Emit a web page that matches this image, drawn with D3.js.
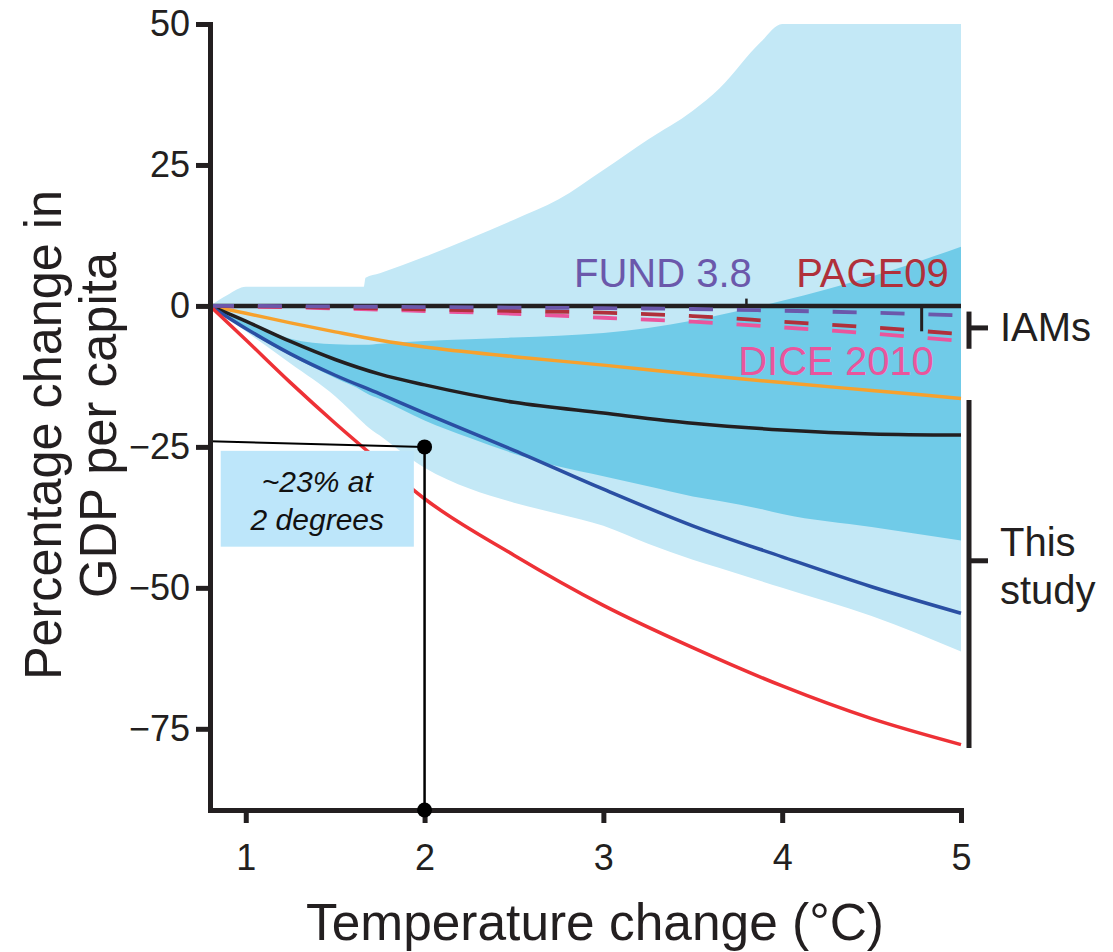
<!DOCTYPE html>
<html>
<head>
<meta charset="utf-8">
<script src="https://cdn.jsdelivr.net/npm/d3@7"></script>
<style>
body { margin: 0; background: #fff; }
text { font-family: "Liberation Sans", Arial, Helvetica, sans-serif; fill: #231f20; }
</style>
</head>
<body>
<div id="chart"></div>
<script>

// temperature grid for the response lines
var temps = [0.8, 1.0, 1.25, 1.5, 1.75, 2.0, 2.5, 3.0, 3.5, 4.0, 4.5, 5.0];

// this study: response curves (% change in GDP per capita)
var lineOrange = [0, -1.3, -3.0, -4.6, -6.1, -7.3, -9.0, -10.5, -12.1, -13.6, -15.0, -16.4];
var lineBlack  = [0, -2.7, -6.3, -9.5, -12.1, -14.0, -17.1, -19.0, -20.8, -22.0, -22.7, -22.9];
var lineBlue   = [0, -4.0, -8.5, -12.3, -15.6, -19.0, -25.6, -32.5, -39.0, -44.5, -49.8, -54.5];
var lineRed    = [0, -6.0, -13.6, -20.8, -27.6, -34.2, -44.2, -53.1, -60.6, -67.4, -73.2, -77.8];

// IAM damage functions
var fund = [0, 0, -0.05, -0.1, -0.15, -0.2, -0.3, -0.4, -0.55, -0.85, -1.2, -1.7];
var page = [0, -0.05, -0.15, -0.3, -0.45, -0.6, -0.9, -1.2, -1.8, -2.8, -3.8, -5.0];
var dice = [0, -0.1, -0.25, -0.45, -0.65, -0.9, -1.4, -2.1, -2.8, -3.8, -4.9, -6.2];

// uncertainty bands
var bandT   = [0.8, 0.9, 1.0, 1.25, 1.5, 1.66, 1.67, 1.75, 2.0, 2.25, 2.5, 2.75, 3.0, 3.25, 3.5, 3.65, 3.88, 4.0, 4.5, 5.0];
var outerHi = [0, 2.0, 3.4, 3.4, 3.4, 3.4, 5.0, 5.8, 8.7, 11.9, 15.3, 18.9, 24.1, 29.5, 34.6, 38.6, 46.8, 50, 50, 50];
var outerLo = [0, -2.2, -4.5, -10.2, -16.0, -20.8, -21.1, -23.0, -28.7, -32.4, -34.9, -36.9, -39.0, -42.2, -45.0, -46.5, -48.8, -50.0, -55.0, -61.3];
var innerHi = [0, -1.2, -2.7, -5.8, -6.8, -6.9, -6.9, -6.7, -6.2, -5.9, -5.6, -5.3, -4.8, -3.9, -2.6, -1.6, 0, 0.9, 5.2, 10.5];
var innerLo = [0, -1.9, -4.2, -8.8, -12.8, -15.2, -15.4, -16.5, -20.3, -23.4, -26.2, -28.5, -30.2, -32.0, -33.8, -34.6, -36.0, -36.9, -39.2, -41.6];

// ticks
var xTicks = [1, 2, 3, 4, 5];
var yTicks = [50, 25, 0, -25, -50, -75];

// annotation: ~23% at 2 degrees
var annotLine = [[0.8, -24], [2, -25]];
var annotBox = {t: [0.86, 1.94], v: [-25.7, -42.7]};

// brackets on the right (top, tick, bottom)
var iamBracket = [-1.0, -3.9, -7.6];
var studyBracket = [-16.7, -45.2, -78.4];

var width = 1113, height = 952;

var svg = d3.select("#chart")
    .append("svg")
    .attr("width", width)
    .attr("height", height);

var x = d3.scaleLinear().domain([0.8, 5]).range([210, 961]);
var y = d3.scaleLinear().domain([-89.4, 50]).range([810, 24]);

var ink = "#231f20";

// bands
var band = d3.area()
    .curve(d3.curveMonotoneX)
    .x(function (d) { return x(d.t); })
    .y0(function (d) { return y(d.lo); })
    .y1(function (d) { return y(d.hi); });

var outer = bandT.map(function (t, i) { return {t: t, lo: outerLo[i], hi: outerHi[i]}; });
var inner = bandT.map(function (t, i) { return {t: t, lo: innerLo[i], hi: innerHi[i]}; });

svg.append("path").attr("d", band(outer)).attr("fill", "#c3e8f6");
svg.append("path").attr("d", band(inner)).attr("fill", "#70cbe8");

// zero line
svg.append("line")
    .attr("x1", x(0.8)).attr("x2", x(5))
    .attr("y1", y(0)).attr("y2", y(0))
    .attr("stroke", ink)
    .attr("stroke-width", 4.5);

// response lines
var line = d3.line()
    .curve(d3.curveMonotoneX)
    .x(function (d, i) { return x(temps[i]); })
    .y(function (d) { return y(d); });

var series = [
    {vals: lineOrange, color: "#f6a12d"},
    {vals: lineBlack, color: "#231f20"},
    {vals: lineBlue, color: "#2a4fa3"},
    {vals: lineRed, color: "#ee3136"}
];

svg.selectAll(".resp")
    .data(series)
    .enter()
    .append("path")
    .attr("class", "resp")
    .attr("d", function (d) { return line(d.vals); })
    .attr("fill", "none")
    .attr("stroke", function (d) { return d.color; })
    .attr("stroke-width", 3.5);

// IAM dashed lines
var iams = [
    {vals: dice, color: "#ea559c"},
    {vals: page, color: "#b0303b"},
    {vals: fund, color: "#6b58ab"}
];

svg.selectAll(".iam")
    .data(iams)
    .enter()
    .append("path")
    .attr("class", "iam")
    .attr("d", function (d) { return line(d.vals); })
    .attr("fill", "none")
    .attr("stroke", function (d) { return d.color; })
    .attr("stroke-width", 3.8)
    .attr("stroke-dasharray", "24,23.9");

// label leaders
svg.append("line")
    .attr("x1", x(3.8)).attr("x2", x(3.8))
    .attr("y1", y(0)).attr("y2", y(1.3))
    .attr("stroke", ink).attr("stroke-width", 2.5);
svg.append("line")
    .attr("x1", x(4.78)).attr("x2", x(4.78))
    .attr("y1", y(0)).attr("y2", y(-4.5))
    .attr("stroke", ink).attr("stroke-width", 3);

// IAM labels
svg.append("text")
    .attr("x", x(3.83)).attr("y", y(3.4))
    .attr("text-anchor", "end")
    .attr("font-size", 40)
    .style("fill", "#6b58ab")
    .text("FUND 3.8");
svg.append("text")
    .attr("x", x(4.078)).attr("y", y(3.4))
    .attr("font-size", 40)
    .style("fill", "#b0303b")
    .text("PAGE09");
svg.append("text")
    .attr("x", x(3.754)).attr("y", y(-12.2))
    .attr("font-size", 40)
    .style("fill", "#ea559c")
    .text("DICE 2010");

// annotation
svg.append("rect")
    .attr("x", x(annotBox.t[0]))
    .attr("y", y(annotBox.v[0]))
    .attr("width", x(annotBox.t[1]) - x(annotBox.t[0]))
    .attr("height", y(annotBox.v[1]) - y(annotBox.v[0]))
    .attr("fill", "#bde6fa");

svg.append("path")
    .attr("d", d3.line().x(function (d) { return x(d[0]); }).y(function (d) { return y(d[1]); })(annotLine))
    .attr("stroke", "#000").attr("stroke-width", 2).attr("fill", "none");

svg.append("line")
    .attr("x1", x(2)).attr("x2", x(2))
    .attr("y1", y(-25)).attr("y2", y(-89.4))
    .attr("stroke", "#000").attr("stroke-width", 2.5);

var boxMid = (x(annotBox.t[0]) + x(annotBox.t[1])) / 2;
svg.append("text")
    .attr("x", boxMid).attr("y", 492)
    .attr("text-anchor", "middle")
    .attr("font-size", 30).attr("font-style", "italic")
    .style("fill", "#111")
    .text("~23% at");
svg.append("text")
    .attr("x", boxMid).attr("y", 530)
    .attr("text-anchor", "middle")
    .attr("font-size", 30).attr("font-style", "italic")
    .style("fill", "#111")
    .text("2 degrees");

// y axis
var yAxis = svg.append("g")
    .attr("transform", "translate(" + x(0.8) + ",0)")
    .call(d3.axisLeft(y)
        .tickValues(yTicks)
        .tickSize(14)
        .tickSizeOuter(0)
        .tickPadding(6));

// x axis
var xAxis = svg.append("g")
    .attr("transform", "translate(0," + y(-89.4) + ")")
    .call(d3.axisBottom(x)
        .tickValues(xTicks)
        .tickFormat(d3.format("d"))
        .tickSize(13)
        .tickSizeOuter(0)
        .tickPadding(21));

[yAxis, xAxis].forEach(function (g) {
    g.attr("font-family", null).attr("font-size", null);
    g.select(".domain").attr("stroke", ink).attr("stroke-width", 5).attr("stroke-linecap", "square");
    g.selectAll(".tick line").attr("stroke", ink).attr("stroke-width", 5);
    g.selectAll(".tick text").attr("font-size", 36).style("fill", ink);
});

// dots on top of axis
svg.selectAll(".dot")
    .data([-25, -89.4])
    .enter()
    .append("circle")
    .attr("cx", x(2))
    .attr("cy", function (d) { return y(d); })
    .attr("r", 7.5)
    .attr("fill", "#000");

// brackets
function bracket(vals, label, lineY) {
    var bx = x(5) + 8;
    svg.append("line")
        .attr("x1", bx).attr("x2", bx)
        .attr("y1", y(vals[0])).attr("y2", y(vals[2]))
        .attr("stroke", ink).attr("stroke-width", 5);
    svg.append("line")
        .attr("x1", bx).attr("x2", bx + 19)
        .attr("y1", y(vals[1])).attr("y2", y(vals[1]))
        .attr("stroke", ink).attr("stroke-width", 5);
    label.forEach(function (s, i) {
        svg.append("text")
            .attr("x", bx + 31)
            .attr("y", lineY[i])
            .attr("font-size", 40)
            .text(s);
    });
}
bracket(iamBracket, ["IAMs"], [341]);
bracket(studyBracket, ["This", "study"], [556, 604]);

// axis titles
svg.append("text")
    .attr("x", 595).attr("y", 940)
    .attr("text-anchor", "middle")
    .attr("font-size", 52)
    .attr("textLength", 578)
    .attr("lengthAdjust", "spacingAndGlyphs")
    .text("Temperature change (°C)");

svg.append("text")
    .attr("transform", "translate(61,435) rotate(-90)")
    .attr("text-anchor", "middle")
    .attr("font-size", 52)
    .attr("textLength", 490)
    .attr("lengthAdjust", "spacingAndGlyphs")
    .text("Percentage change in");

svg.append("text")
    .attr("transform", "translate(116,425) rotate(-90)")
    .attr("text-anchor", "middle")
    .attr("font-size", 52)
    .attr("textLength", 346)
    .attr("lengthAdjust", "spacingAndGlyphs")
    .text("GDP per capita");

</script>
</body>
</html>
